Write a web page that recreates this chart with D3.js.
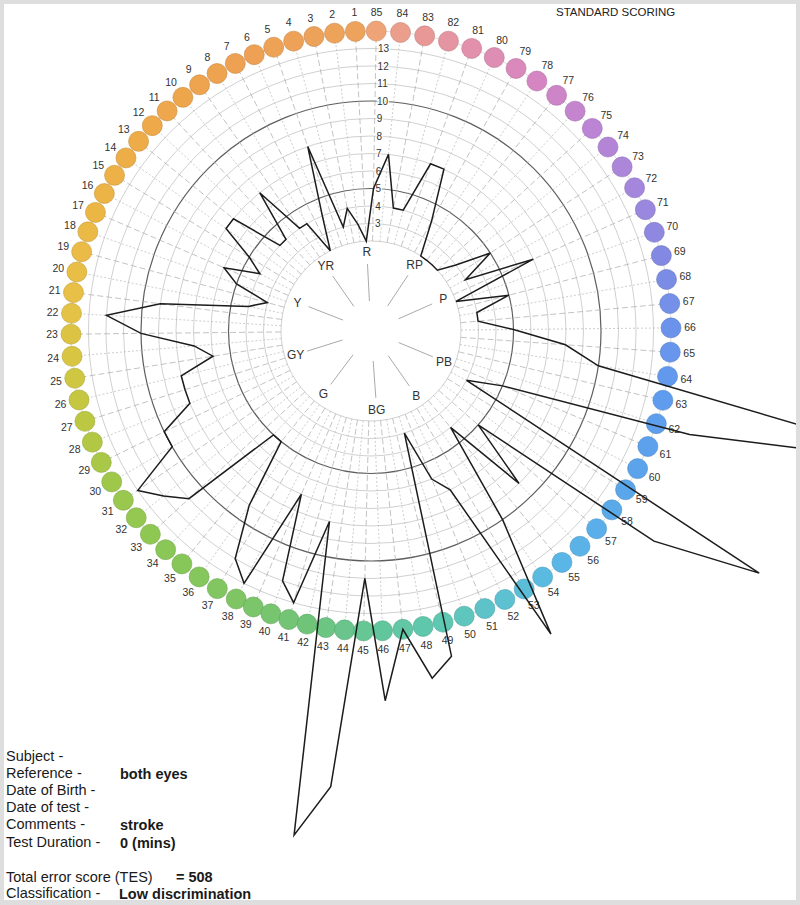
<!DOCTYPE html>
<html>
<head>
<meta charset="utf-8">
<script src="https://cdn.jsdelivr.net/npm/d3@7"></script>
<style>
body { margin: 0; background: #dedede; }
svg { display: block; font-family: "Liberation Sans", Arial, sans-serif; }
</style>
</head>
<body>
<svg id="chart"></svg>
<script>
// FM 100 hue result plot, standard scoring

var WIDTH = 800;
var HEIGHT = 905;
var CX = 371;
var CY = 331;
var CAP_RING = 300;
var CAP_RADIUS = 10;

// data
var caps = [
   1,  2,  3,  4,  5,  6,  7,  8,  9, 10, 11, 12, 13, 14, 15, 16, 17,
  18, 19, 20, 21, 22, 23, 24, 25, 26, 27, 28, 29, 30, 31, 32, 33, 34,
  35, 36, 37, 38, 39, 40, 41, 42, 43, 44, 45, 46, 47, 48, 49, 50, 51,
  52, 53, 54, 55, 56, 57, 58, 59, 60, 61, 62, 63, 64, 65, 66, 67, 68,
  69, 70, 71, 72, 73, 74, 75, 76, 77, 78, 79, 80, 81, 82, 83, 84, 85
];
var errorScores = [
   2,  3,  4,  3,  8,  4,  2,  4,  4,  7,
   4,  4,  7,  7,  5,  4,  6,  5,  3,  4,
   9, 12, 10,  7,  6,  8,  8,  8, 10, 10,
  13, 12, 11,  5,  5,  9, 12, 13,  7, 12,
  13,  8, 26, 23, 11, 18, 14, 17, 16,  3,
   6,  7, 17, 10,  4,  9,  5, 17, 23,  3,
   5, 16, 30, 10,  8,  5,  3,  3,  5,  2,
   7,  3,  5,  3,  2,  2,  2,  2,  4,  7,
   7,  4,  4,  7,  5
];
var scoreTicks = [3, 4, 5, 6, 7, 8, 9, 10, 11, 12, 13];
var ringScores = [2, 3, 4, 5, 6, 7, 8, 9, 10, 11, 12, 13];
var boldRings = [5, 10];
var hueNames = ["R", "RP", "P", "PB", "B", "BG", "G", "GY", "Y", "YR"];
var hueCaps = [1, 78, 71, 61, 54, 46.5, 35.5, 27, 17.5, 9];

var infoLabels = ["Subject -", "Reference -", "Date of Birth -", "Date of test -", "Comments -", "Test Duration -"];
var infoValues = ["", "both eyes", "", "", "stroke", "0 (mins)"];
var tesLabel = "Total error score (TES)";
var tesValue = "= 508";
var classLabel = "Classification -";
var classValue = "Low discrimination";

// cap colours along the test
var colorCaps = [1, 7, 12, 17, 21, 24, 27, 30, 34, 38, 42, 46, 49, 52, 55, 59, 63, 66, 69, 72, 75, 78, 81, 84, 85];
var colorValues = ["#eda35c", "#eea152", "#eea94a", "#ecb645", "#e8c047", "#d8c542", "#bcc841", "#9fc84b",
                   "#8ac756", "#7fc564", "#70c47a", "#62c69c", "#5ec8b3", "#5dc1d2", "#5ab6e6", "#5aa6eb",
                   "#5f9cee", "#6c93ec", "#8389e2", "#a487dc", "#bc84d4", "#d586c2", "#e290ac", "#eb9e8c", "#eea476"];

// scales
var rScale = d3.scaleLinear().domain([2, 13]).range([90, 282.5]);

// cap position around the ring (degrees clockwise from top), counted from cap 85
var posScale = d3.scaleLinear()
    .domain([0, 19, 23, 27, 31, 36, 39, 43, 47, 51, 55, 62, 84, 85])
    .range([1, 89.4, 108, 126.6, 145.1, 166.1, 177.8, 192.3, 206.7, 223.2, 239.8, 269.4, 357, 361]);

function capAngle(c) {
    return posScale((85 - c) % 85) * Math.PI / 180;
}
function px(a, r) { return r * Math.sin(a); }
function py(a, r) { return -r * Math.cos(a); }

var capColor = d3.scaleLinear().domain(colorCaps).range(colorValues);

var svg = d3.select("#chart").attr("width", WIDTH).attr("height", HEIGHT);

svg.append("rect").attr("width", WIDTH).attr("height", HEIGHT).attr("fill", "#dedede");
svg.append("rect").attr("x", 4).attr("y", 4).attr("width", 792).attr("height", 896).attr("fill", "#ffffff");

svg.append("clipPath").attr("id", "panel")
    .append("rect").attr("x", 4).attr("y", 4).attr("width", 792).attr("height", 896);

var plot = svg.append("g").attr("clip-path", "url(#panel)")
    .append("g").attr("transform", "translate(" + CX + "," + CY + ")");

// concentric score rings
plot.selectAll(".ring").data(ringScores).enter().append("circle")
    .attr("class", "ring")
    .attr("r", function(d) { return rScale(d); })
    .attr("fill", "none")
    .attr("stroke", function(d) { return boldRings.indexOf(d) >= 0 ? "#5e5e5e" : "#c4c4c4"; })
    .attr("stroke-width", function(d) { return boldRings.indexOf(d) >= 0 ? 1.2 : 0.8; });

// radial line for each cap
plot.selectAll(".spoke").data(caps).enter().append("line")
    .attr("class", "spoke")
    .attr("x1", function(d) { return px(capAngle(d), rScale(2)); })
    .attr("y1", function(d) { return py(capAngle(d), rScale(2)); })
    .attr("x2", function(d) { return px(capAngle(d), CAP_RING - 8); })
    .attr("y2", function(d) { return py(capAngle(d), CAP_RING - 8); })
    .attr("stroke", function(d) { return d % 2 ? "#a9a9a9" : "#b8b8b8"; })
    .attr("stroke-width", 0.7)
    .attr("stroke-dasharray", function(d) { return d % 2 ? "6,3" : "2,2"; });

// ring through the caps
plot.append("circle").attr("r", CAP_RING)
    .attr("fill", "none").attr("stroke", "#c8c8c8").attr("stroke-width", 0.6);

// score labels along the cap 85 axis
var axisA = capAngle(85);
plot.selectAll(".tick").data(scoreTicks).enter().append("text")
    .attr("class", "tick")
    .attr("x", function(d) { return px(axisA, rScale(d)) + 2; })
    .attr("y", function(d) { return py(axisA, rScale(d)); })
    .attr("dy", "0.35em")
    .attr("font-size", "10px")
    .attr("fill", "#333")
    .attr("stroke", "#fff").attr("stroke-width", 2.5).attr("paint-order", "stroke")
    .text(function(d) { return d; });

// hue spokes and names in the centre
plot.selectAll(".hue").data(hueCaps).enter().append("line")
    .attr("class", "hue")
    .attr("x1", function(d) { return px(capAngle(d), 30); })
    .attr("y1", function(d) { return py(capAngle(d), 30); })
    .attr("x2", function(d) { return px(capAngle(d), 67); })
    .attr("y2", function(d) { return py(capAngle(d), 67); })
    .attr("stroke", "#aaa").attr("stroke-width", 1);

plot.selectAll(".hueName").data(hueNames).enter().append("text")
    .attr("class", "hueName")
    .attr("x", function(d, i) { return px(capAngle(hueCaps[i]), 79); })
    .attr("y", function(d, i) { return py(capAngle(hueCaps[i]), 79); })
    .attr("dy", "0.35em")
    .attr("text-anchor", "middle")
    .attr("font-size", "12px")
    .attr("fill", "#333")
    .text(function(d) { return d; });

// coloured caps
plot.selectAll(".cap").data(caps).enter().append("circle")
    .attr("class", "cap")
    .attr("cx", function(d) { return px(capAngle(d), CAP_RING); })
    .attr("cy", function(d) { return py(capAngle(d), CAP_RING); })
    .attr("r", CAP_RADIUS)
    .attr("fill", function(d) { return capColor(d); })
    .attr("stroke", function(d) { return d3.color(capColor(d)).darker(0.5); })
    .attr("stroke-width", 0.6);

plot.selectAll(".capNum").data(caps).enter().append("text")
    .attr("class", "capNum")
    .attr("x", function(d) { return px(capAngle(d), 319); })
    .attr("y", function(d) { return py(capAngle(d), 319); })
    .attr("dy", "0.35em")
    .attr("text-anchor", "middle")
    .attr("font-size", "10.5px")
    .attr("fill", "#333")
    .text(function(d) { return d; });

// error score trace
var points = caps.map(function(c, i) { return { cap: c, score: errorScores[i] }; });
var trace = d3.lineRadial()
    .angle(function(d) { return capAngle(d.cap); })
    .radius(function(d) { return rScale(d.score); })
    .curve(d3.curveLinearClosed);

plot.append("path")
    .datum(points)
    .attr("d", trace)
    .attr("fill", "none")
    .attr("stroke", "#1c1c1c")
    .attr("stroke-width", 1.5)
    .attr("stroke-linejoin", "miter");

// header
svg.append("text")
    .attr("x", 556).attr("y", 15.5)
    .attr("font-size", "11.5px").attr("fill", "#222")
    .text("STANDARD SCORING");

// subject details
var info = svg.append("g").attr("font-size", "14.5px").attr("fill", "#1a1a1a");
info.selectAll(".lab").data(infoLabels).enter().append("text")
    .attr("x", 6)
    .attr("y", function(d, i) { return 761 + i * 17.1; })
    .text(function(d) { return d; });
info.selectAll(".val").data(infoValues).enter().append("text")
    .attr("x", 120)
    .attr("y", function(d, i) { return 762 + i * 17.1; })
    .attr("font-weight", "bold")
    .text(function(d) { return d; });

info.append("text").attr("x", 6).attr("y", 881.5).text(tesLabel);
info.append("text").attr("x", 176).attr("y", 882).attr("font-weight", "bold").text(tesValue);
info.append("text").attr("x", 6).attr("y", 898).text(classLabel);
info.append("text").attr("x", 119).attr("y", 898.5).attr("font-weight", "bold").text(classValue);
</script>
</body>
</html>
